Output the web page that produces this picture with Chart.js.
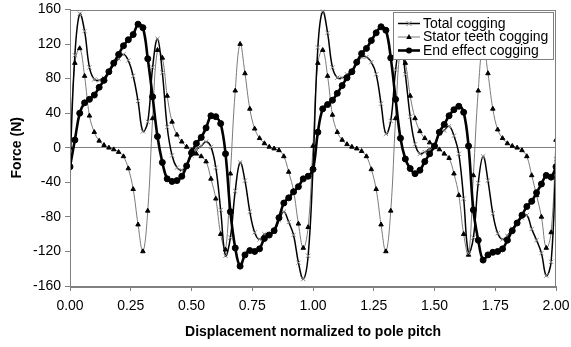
<!DOCTYPE html>
<html>
<head>
<meta charset="utf-8">
<script src="https://cdn.jsdelivr.net/npm/chart.js@4.4.1/dist/chart.umd.min.js"></script>
<style>
  html, body { margin: 0; padding: 0; background: #ffffff; }
  #wrap { width: 571px; height: 347px; }
</style>
</head>
<body>
<div id="wrap"><canvas id="c" width="571" height="347"></canvas></div>
<script>
const displacement = [
  0.00,0.02,0.04,0.06,0.08,0.10,0.12,0.14,0.16,0.18,0.20,0.22,0.24,0.26,0.28,0.30,0.32,0.34,0.36,0.38,
  0.40,0.42,0.44,0.46,0.48,0.50,0.52,0.54,0.56,0.58,0.60,0.62,0.64,0.66,0.68,0.70,0.72,0.74,0.76,0.78,
  0.80,0.82,0.84,0.86,0.88,0.90,0.92,0.94,0.96,0.98,1.00,1.02,1.04,1.06,1.08,1.10,1.12,1.14,1.16,1.18,
  1.20,1.22,1.24,1.26,1.28,1.30,1.32,1.34,1.36,1.38,1.40,1.42,1.44,1.46,1.48,1.50,1.52,1.54,1.56,1.58,
  1.60,1.62,1.64,1.66,1.68,1.70,1.72,1.74,1.76,1.78,1.80,1.82,1.84,1.86,1.88,1.90,1.92,1.94,1.96,1.98,2.00
];
const totalCogging = [
  -22,107,155,135,93,79,78,81,88,96,103,108,101,83,54,19,30,93,126,87,
  24,-9,-23,-26,-20,-9,-2,2,7,1,-23,-72,-125,-104,-50,-17,-38,-74,-98,-106,
  -100,-100,-97,-84,-74,-86,-101,-133,-152,-125,-23,116,158,133,93,81,81,85,89,98,
  105,105,99,85,51,16,31,90,124,85,36,4,-7,-5,-1,3,16,20,25,14,
  -7,-59,-122,-104,-41,-10,-38,-76,-99,-106,-102,-94,-87,-81,-78,-94,-107,-122,-148,-132,-13
];
const statorTeethCogging = [
  0,98,115,83,37,18,8,3,0,-2,-5,-10,-24,-48,-89,-120,-73,34,113,104,
  60,30,15,7,1,-3,-7,-10,-16,-36,-59,-100,-118,-30,66,120,86,45,22,11,
  5,1,-1,-3,-10,-28,-50,-88,-116,-92,2,98,113,83,38,18,9,4,1,-1,
  -4,-10,-25,-48,-89,-120,-73,34,113,98,60,34,19,11,6,1,-2,-7,-12,-30,
  -55,-100,-124,-32,66,120,86,45,21,11,5,2,0,-3,-10,-32,-55,-80,-116,-98,9
];
const endEffectCogging = [
  -22,9,40,52,56,61,70,78,88,98,108,118,125,131,143,139,103,59,13,-17,
  -36,-39,-38,-33,-21,-6,5,12,23,37,36,28,-7,-74,-116,-137,-124,-119,-120,-117,
  -105,-101,-96,-81,-64,-58,-51,-45,-36,-33,-25,18,45,50,55,63,72,81,88,99,
  109,115,124,133,140,136,104,56,11,-13,-24,-30,-26,-16,-7,2,18,27,37,44,
  48,41,2,-72,-107,-130,-124,-121,-120,-117,-107,-96,-87,-78,-68,-62,-52,-42,-32,-34,-22
];
const seriesNames = ['Total cogging', 'Stator teeth cogging', 'End effect cogging'];
const xTicks = [0, 0.25, 0.5, 0.75, 1, 1.25, 1.5, 1.75, 2];
const yTicks = [-160, -120, -80, -40, 0, 40, 80, 120, 160];
const xTitle = 'Displacement normalized to pole pitch';
const yTitle = 'Force (N)';

const FONT = '"Liberation Sans", Arial, sans-serif';
const toPts = arr => arr.map((v, i) => ({ x: displacement[i], y: v }));

const datasets = [
  {
    label: seriesNames[0], data: toPts(totalCogging),
    borderColor: '#000000', borderWidth: 1.5, tension: 0.4,
    pointStyle: 'crossRot', pointRadius: 3, pointBorderColor: '#8a8a8a', pointBorderWidth: 1,
    pointBackgroundColor: '#8a8a8a', order: 1, _mk: 'x'
  },
  {
    label: seriesNames[1], data: toPts(statorTeethCogging),
    borderColor: '#7a7a7a', borderWidth: 1, tension: 0.4,
    pointStyle: 'triangle', pointRadius: 2.6, pointBorderColor: '#000000', pointBorderWidth: 1,
    pointBackgroundColor: '#000000', order: 2, _mk: 'tri'
  },
  {
    label: seriesNames[2], data: toPts(endEffectCogging),
    borderColor: '#000000', borderWidth: 2.6, tension: 0.4,
    pointStyle: 'circle', pointRadius: 3, pointBorderColor: '#000000', pointBorderWidth: 1,
    pointBackgroundColor: '#000000', order: 0, _mk: 'dot'
  }
];

const frameAndLegend = {
  id: 'frameAndLegend',
  afterDatasetsDraw(chart) {
    const { ctx, chartArea: a } = chart;
    ctx.save();
    ctx.strokeStyle = '#808080';
    ctx.lineWidth = 1;
    ctx.strokeRect(Math.round(a.left) + 0.5, Math.round(a.top) + 0.5,
                   Math.round(a.right - a.left) - 1, Math.round(a.bottom - a.top));
    // legend box
    const lx = 393.5, ly = 12.5, lw = 160, lh = 47;
    ctx.fillStyle = '#ffffff';
    ctx.fillRect(lx, ly, lw, lh);
    ctx.strokeStyle = '#808080';
    ctx.strokeRect(lx, ly, lw, lh);
    const rows = [23.5, 37, 50.5];
    ctx.font = '14px ' + FONT;
    ctx.textBaseline = 'middle';
    ctx.textAlign = 'left';
    datasets.forEach((ds, i) => {
      const y = rows[i];
      ctx.strokeStyle = ds.borderColor;
      ctx.lineWidth = ds.borderWidth;
      ctx.beginPath(); ctx.moveTo(398, y); ctx.lineTo(420, y); ctx.stroke();
      const cx = 409;
      ctx.fillStyle = ds.pointBackgroundColor;
      ctx.strokeStyle = ds.pointBorderColor;
      ctx.lineWidth = 1;
      if (ds._mk === 'x') {
        ctx.beginPath();
        ctx.moveTo(cx - 2.5, y - 2.5); ctx.lineTo(cx + 2.5, y + 2.5);
        ctx.moveTo(cx + 2.5, y - 2.5); ctx.lineTo(cx - 2.5, y + 2.5);
        ctx.stroke();
      } else if (ds._mk === 'tri') {
        ctx.beginPath();
        ctx.moveTo(cx, y - 3); ctx.lineTo(cx + 2.8, y + 2); ctx.lineTo(cx - 2.8, y + 2);
        ctx.closePath(); ctx.fill();
      } else {
        ctx.beginPath(); ctx.arc(cx, y, 3, 0, Math.PI * 2); ctx.fill();
      }
      ctx.fillStyle = '#000000';
      ctx.fillText(ds.label, 423, y + 0.5);
    });
    ctx.restore();
  }
};

new Chart(document.getElementById('c'), {
  type: 'line',
  data: { datasets },
  options: {
    responsive: false,
    devicePixelRatio: 1,
    animation: false,
    layout: { padding: { left: 0, right: 15, top: 9.5, bottom: 0 } },
    plugins: { legend: { display: false }, tooltip: { enabled: false } },
    scales: {
      x: {
        type: 'linear', min: 0, max: 2,
        afterBuildTicks: s => { s.ticks = xTicks.map(v => ({ value: v })); },
        afterFit: s => { s.height = 61; s.paddingLeft = 0; s.paddingRight = 0; },
        ticks: { color: '#000000', font: { family: FONT, size: 14 }, padding: 7,
                 maxRotation: 0, autoSkip: false, callback: v => Number(v).toFixed(2) },
        grid: { drawOnChartArea: false, tickColor: '#808080', tickLength: 5 },
        border: { color: '#808080' },
        title: { display: true, text: xTitle, color: '#000000',
                 font: { family: FONT, size: 14, weight: 'bold' }, padding: { top: 0, bottom: 6 } }
      },
      y: {
        type: 'linear', min: -160, max: 160,
        afterBuildTicks: s => { s.ticks = yTicks.map(v => ({ value: v })); },
        afterFit: s => { s.width = 70; s.paddingTop = 0; s.paddingBottom = 0; },
        ticks: { color: '#000000', font: { family: FONT, size: 14 }, padding: 4, autoSkip: false },
        grid: { color: c => (c.tick && c.tick.value === 0) ? '#808080' : 'rgba(0,0,0,0)',
                tickColor: '#808080', tickLength: 5 },
        border: { color: '#808080' },
        title: { display: true, text: yTitle, color: '#000000',
                 font: { family: FONT, size: 14, weight: 'bold' }, padding: { top: 9, bottom: 0 } }
      }
    }
  },
  plugins: [frameAndLegend]
});
</script>
</body>
</html>
